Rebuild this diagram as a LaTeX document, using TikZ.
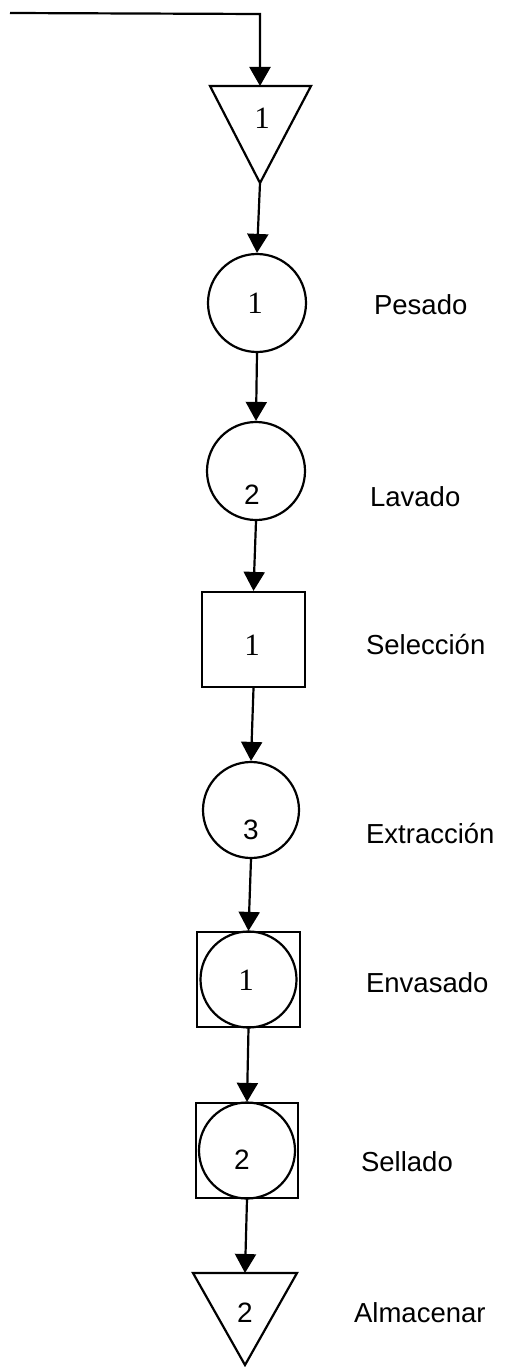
\documentclass[tikz,border=0pt]{standalone}
\usepackage{fontspec}
\setmainfont{Liberation Sans}
\newfontfamily\numserif{Liberation Serif}
\usetikzlibrary{arrows.meta}
\begin{document}
\begin{tikzpicture}[x=1pt,y=-1pt,
  line width=2.2pt,
  flow/.style={-{Triangle[width=21pt,length=19pt]}},
  opcircle/.style={draw,circle,minimum size=98pt,inner sep=0pt},
  inspbox/.style={draw,rectangle,minimum width=103pt,minimum height=95pt,inner sep=0pt},
  numtxt/.style={font=\fontsize{28}{30}\selectfont},
  numone/.style={font=\numserif\fontsize{31}{32}\selectfont},
  steplabel/.style={anchor=west,inner sep=0pt,font=\fontsize{27.5}{30}\selectfont}]
\useasboundingbox (0,0) rectangle (507,1367);

% incoming line and first storage triangle
\coordinate (in) at (10,13);
\coordinate (corner) at (260,14);
\coordinate (t1top) at (260,86);
\coordinate (t1l) at (210,86);
\coordinate (t1r) at (311,86);
\coordinate (t1apex) at (260,183);
\draw[line join=miter] (t1l) -- (t1r) -- (t1apex) -- cycle;
\node[numone] (n1) at (262,118) {1};

% operations and inspections
\node[opcircle] (c1) at (257,303) {};
\node[numone] (nc1) at (255,303) {1};
\node[steplabel] (l1) at (373,305) {Pesado};

\node[opcircle] (c2) at (256,471) {};
\node[numtxt] (nc2) at (252,495) {2};
\node[steplabel] (l2) at (369,497) {Lavado};

\node[inspbox] (s1) at (253.5,639.5) {};
\node[numone] (ns1) at (252,645) {1};
\node[steplabel] (l3) at (365,645) {Selección};

\node[opcircle,minimum size=96pt] (c3) at (251,810) {};
\node[numtxt] (nc3) at (251,830) {3};
\node[steplabel] (l4) at (365,833) {Extracción};

\node[inspbox] (s2) at (248.5,979.5) {};
\node[opcircle,minimum size=96pt] (c4) at (248.5,979.5) {};
\node[numone] (nc4) at (246,980) {1};
\node[steplabel] (l5) at (365,983) {Envasado};

\node[inspbox,minimum width=102pt] (s3) at (247,1150.5) {};
\node[opcircle,minimum size=96pt] (c5) at (247,1150.5) {};
\node[numtxt] (nc5) at (242,1160) {2};
\node[steplabel] (l6) at (360,1162) {Sellado};

% final storage triangle
\coordinate (t2top) at (245,1273);
\coordinate (t2l) at (193,1273);
\coordinate (t2r) at (297,1273);
\coordinate (t2apex) at (245,1365);
\draw[line join=miter] (t2l) -- (t2r) -- (t2apex) -- cycle;
\node[numtxt] (n2) at (245,1313) {2};
\node[steplabel] (l7) at (353,1313) {Almacenar};

% connectors
\draw[flow] (in) -- (corner) -- (t1top);
\draw[flow] (t1apex) -- (c1.north);
\draw[flow] (c1.south) -- (c2.north);
\draw[flow] (c2.south) -- (s1.north);
\draw[flow] (s1.south) -- (c3.north);
\draw[flow] (c3.south) -- (s2.north);
\draw[flow] (s2.south) -- (s3.north);
\draw[flow] (s3.south) -- (t2top);
\end{tikzpicture}
\end{document}
